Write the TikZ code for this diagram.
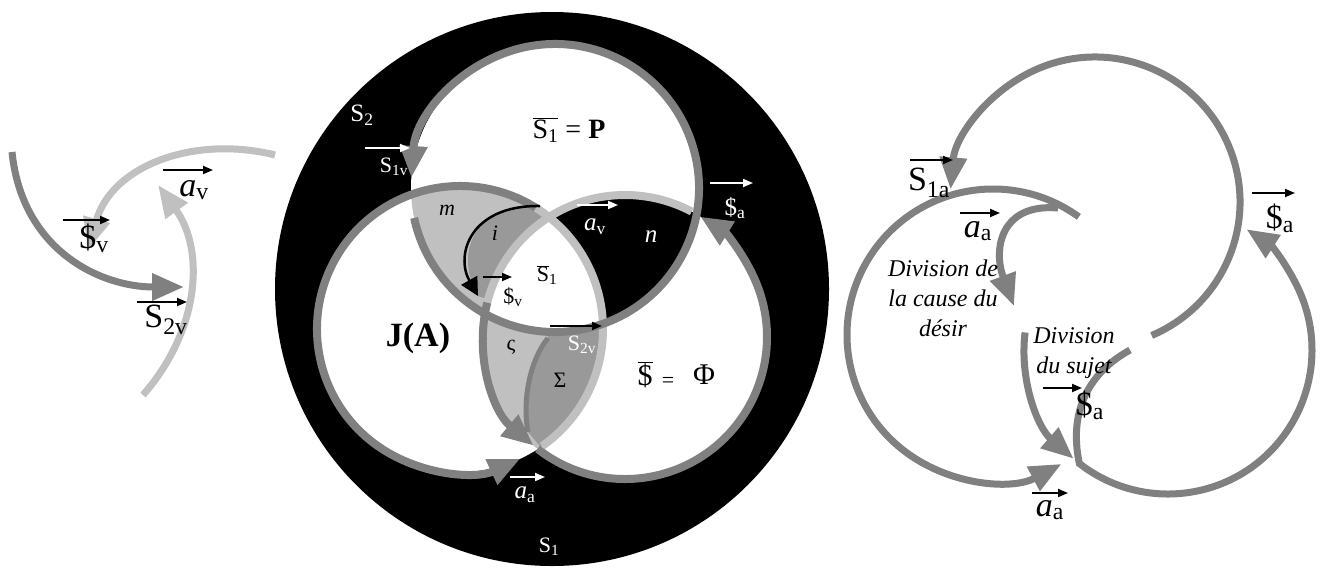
\documentclass[tikz,border=0pt]{standalone}
\usepackage{fontspec}
\setmainfont{Liberation Serif}
\usetikzlibrary{arrows.meta,calc}
\definecolor{gA}{HTML}{808080}
\definecolor{gL}{HTML}{C0C0C0}
\definecolor{gD}{HTML}{999999}
\begin{document}
\begin{tikzpicture}[x=1pt,y=-1pt,
  every node/.style={inner sep=0pt},
  gline/.style={draw=gA,line width=8pt},
  lline/.style={draw=gL,line width=8pt},
  tipg/.style={-{Triangle[length=32pt,width=26pt]}},
  vecb/.style={line width=1.8pt,-{Triangle[length=10pt,width=8pt]}},
  vecw/.style={vecb,white},
  big/.style={font=\fontsize{34}{34}\selectfont},
  mid/.style={font=\fontsize{25}{25}\selectfont},
  sml/.style={font=\fontsize{22}{22}\selectfont},
  divi/.style={font=\fontsize{24}{30}\selectfont\itshape,align=center}]
\useasboundingbox (0,0) rectangle (1324,568);
\fill[white] (0,0) rectangle (1324,568);

% ---------------- left figure ----------------
\draw[draw=gA,line width=7pt,tipg] (12,152) .. controls (22,250) and (100,287) .. (184,287);
\draw[draw=gL,line width=7pt,tipg] (275,155) .. controls (195,135) and (112,165) .. (88,250);
\draw[draw=gL,line width=7pt,tipg] (143,395) .. controls (200,330) and (205,250) .. (158,185);
\node[big] (lsv) at (94,238) {\$\textsubscript{v}};
\draw[vecb] (63,220) -- (110,220);
\node[big] (lav) at (194,190) {\textit{a}\textsubscript{v}};
\draw[vecb] (163,170) -- (213,170);
\node[big] (ls2v) at (166,320) {S\textsubscript{2v}};
\draw[vecb] (137,302) -- (187,302);

% ---------------- central figure ----------------
\coordinate (T) at (555,188);
\coordinate (L) at (460,329);
\coordinate (R) at (625,337);
\fill[black] (552,289) circle[radius=277];
\fill[white] (T) circle[radius=144];
\fill[white] (L) circle[radius=143];
\fill[white] (R) circle[radius=142];
\begin{scope}
  \clip (T) circle[radius=144]; \clip (L) circle[radius=143];
  \fill[gL] (300,0) rectangle (800,568);
  \fill[gD] (540,206) .. controls (470,205) and (455,255) .. (478,296) -- (525,312) -- (565,232) -- cycle;
\end{scope}
\begin{scope}
  \clip (T) circle[radius=144]; \clip (R) circle[radius=142];
  \fill[black] (300,0) rectangle (800,568);
\end{scope}
\begin{scope}
  \clip (L) circle[radius=143]; \clip (R) circle[radius=142];
  \fill[gL] (300,0) rectangle (800,568);
  \fill[gD] (548,338) .. controls (530,360) and (522,400) .. (528,432) -- (560,470) -- (660,420) -- (660,300) -- (548,320) -- cycle;
\end{scope}
\begin{scope}
  \clip (T) circle[radius=144]; \clip (L) circle[radius=143]; \clip (R) circle[radius=142];
  \fill[white] (300,0) rectangle (800,568);
\end{scope}
% circle strokes
\draw[lline] ($(L)+(55:143)$) arc[start angle=55,end angle=-58,radius=143];
\draw[lline] ($(R)+(-62:142)$) arc[start angle=-62,end angle=-166,radius=142];
\draw[gline,tipg] ($(T)+(168:144)$) arc[start angle=168,end angle=-176,radius=144];
\draw[gline,tipg] ($(L)+(-58:143)$) arc[start angle=-58,end angle=-295,radius=143];
\draw[gline,tipg] ($(R)+(128:142)$) arc[start angle=128,end angle=-58,radius=142];
\draw[gline,tipg] ($(R)+(-166:142)$) arc[start angle=-166,end angle=-230,radius=142];
\draw[draw=gA,line width=5pt] (548,338) .. controls (530,360) and (522,400) .. (528,432);
\draw[line width=2.5pt,-{Triangle[length=18pt,width=18pt]}] (540,206) .. controls (470,205) and (455,255) .. (478,296);
% central labels
\node[mid,white] (cs2) at (362,115) {S\textsubscript{2}};
\node[sml,white] (cs1v) at (394,167) {S\textsubscript{1v}};
\draw[vecw] (365,148) -- (410,148);
\node[font=\fontsize{28}{28}\selectfont] (csp) at (569,130) {$\overline{\mbox{S\textsubscript{1}}}$ = \textbf{P}};
\node[mid,white] (csa) at (735,208) {\$\textsubscript{a}};
\draw[vecw] (710,183) -- (753,183);
\node[mid,white] (cav) at (595,227) {\textit{a}\textsubscript{v}};
\draw[vecw] (577,205) -- (618,205);
\node[mid,white] (cn) at (651,237) {\textit{n}};
\node[sml] (cm) at (447,210) {\textit{m}};
\node[sml] (ci) at (495,233) {\textit{i}};
\node[sml] (cs1) at (547,275) {$\overline{\mbox{S}}$\textsubscript{1}};
\node[sml] (csv) at (513,297) {\$\textsubscript{v}};
\draw[vecb] (483,277) -- (512,277);
\node[font=\fontsize{34}{34}\selectfont\bfseries] (cja) at (418,338) {J(A)};
\node[sml] (csig) at (511,347) {ς};
\node[sml] (cSig) at (560,380) {Σ};
\node[sml,white] (cs2v) at (582,345) {S\textsubscript{2v}};
\draw[vecb] (550,326) -- (602,326);
\node[font=\fontsize{30}{30}\selectfont] (cdol) at (645,375) {$\overline{\mbox{\$}}$};
\node[sml] (ceq) at (668,382) {=};
\node[font=\fontsize{30}{30}\selectfont] (cphi) at (704,375) {Φ};
\node[mid,white] (caa) at (525,495) {\textit{a}\textsubscript{a}};
\draw[vecw] (510,477) -- (545,477);
\node[sml,white] (cS1) at (549,547) {S\textsubscript{1}};

% ---------------- right figure ----------------
\draw[gline,line width=7pt,tipg] ($(1095,202)+(67:145)$) arc[start angle=67,end angle=-175,radius=145];
\draw[gline,line width=7pt,tipg] ($(993,335)+(-54:146)$) arc[start angle=-54,end angle=-298,radius=146];
\draw[gline,line width=7pt,tipg] (1058,208) .. controls (1000,203) and (993,250) .. (1014,306);
\draw[gline,line width=7pt,tipg] ($(1168,350)+(187:144)$) arc[start angle=187,end angle=131,radius=144];
\draw[gline,line width=7pt,tipg] (1130,350) .. controls (1090,372) and (1068,410) .. ($(1168,350)+(128:144)$) arc[start angle=128,end angle=-57,radius=144];
\node[big] (rs1a) at (929,183) {S\textsubscript{1a}};
\draw[vecb] (910,160) -- (953,160);
\node[big] (raa1) at (978,231) {\textit{a}\textsubscript{a}};
\draw[vecb] (960,213) -- (1000,213);
\node[divi] (rdc) at (943,298) {Division de\\la cause du\\désir};
\node[divi] (rds) at (1074,353) {Division\\du sujet};
\node[big] (rsa1) at (1090,405) {\$\textsubscript{a}};
\draw[vecb] (1043,388) -- (1082,388);
\node[big] (rsa2) at (1280,218) {\$\textsubscript{a}};
\draw[vecb] (1252,193) -- (1295,193);
\node[big] (raa2) at (1050,510) {\textit{a}\textsubscript{a}};
\draw[vecb] (1032,493) -- (1068,493);
\end{tikzpicture}
\end{document}
